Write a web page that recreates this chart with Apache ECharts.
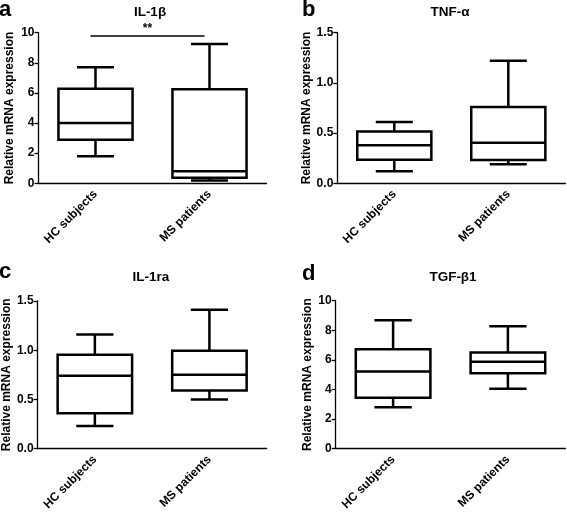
<!DOCTYPE html>
<html><head><meta charset="utf-8">
<script src="https://cdn.jsdelivr.net/npm/echarts@6/dist/echarts.min.js"></script>
<style>html,body{margin:0;padding:0;background:#fff}#c{width:567px;height:513px}</style>
</head><body><div id="c"></div>
<script>
const categories = ['HC subjects', 'MS patients'];
// each: [min, Q1, median, Q3, max]
const il1bHC = [1.8, 2.9, 4.0, 6.28, 7.7];
const il1bMS = [0.18, 0.37, 0.8, 6.24, 9.25];
const tnfHC = [0.12, 0.235, 0.38, 0.515, 0.61];
const tnfMS = [0.19, 0.232, 0.405, 0.76, 1.22];
const il1raHC = [0.23, 0.36, 0.74, 0.955, 1.16];
const il1raMS = [0.50, 0.59, 0.75, 0.995, 1.41];
const tgfHC = [2.79, 3.44, 5.21, 6.72, 8.67];
const tgfMS = [4.04, 5.1, 5.87, 6.5, 8.27];
const titles = ['IL-1β', 'TNF-α', 'IL-1ra', 'TGF-β1'];
const letters = ['a', 'b', 'c', 'd'];
const yMax = [10, 1.5, 1.5, 10];
const yInterval = [2, 0.5, 0.5, 2];
const yDecimals = [0, 1, 1, 0];
const yName = 'Relative mRNA expression';
const sigLevel = 9.78;
const sigLabel = '**';

const panels = [[il1bHC, il1bMS], [tnfHC, tnfMS], [il1raHC, il1raMS], [tgfHC, tgfMS]];
const grids = [
  {left: 38.5, top: 32.7, width: 228, height: 150.6},
  {left: 337.3, top: 32.7, width: 228, height: 150.6},
  {left: 35, top: 301, width: 231.7, height: 150.7},
  {left: 335.7, top: 300.7, width: 229.6, height: 150.3}
];
const nameGaps = [23.2, 24, 19.7, 22.4];
const titlePos = [[150, 12], [450, 12], [151, 277], [453, 277]];
const letterPos = [[-1, -1], [302, -1], [-1, 261], [302, 263]];
const FONT = 'Liberation Sans, Arial, sans-serif';

function renderBox(params, api) {
  const x = api.value(0);
  const v = [1, 2, 3, 4, 5].map(i => api.value(i));
  const p = v.map(val => api.coord([x, val]));
  const w = api.size([1, 0])[0] * 0.65;
  const cx = p[2][0];
  const st = {stroke: '#000', lineWidth: 2.5, fill: null};
  return {
    type: 'group',
    children: [
      {type: 'line', shape: {x1: cx, y1: p[0][1], x2: cx, y2: p[1][1]}, style: st},
      {type: 'line', shape: {x1: cx, y1: p[3][1], x2: cx, y2: p[4][1]}, style: st},
      {type: 'line', shape: {x1: cx - w / 4, y1: p[0][1], x2: cx + w / 4, y2: p[0][1]}, style: st},
      {type: 'line', shape: {x1: cx - w / 4, y1: p[4][1], x2: cx + w / 4, y2: p[4][1]}, style: st},
      {type: 'rect', shape: {x: cx - w / 2, y: p[3][1], width: w, height: p[1][1] - p[3][1]},
        style: {stroke: '#000', lineWidth: 2.5, fill: '#fff'}},
      {type: 'line', shape: {x1: cx - w / 2, y1: p[2][1], x2: cx + w / 2, y2: p[2][1]}, style: st}
    ]
  };
}

function renderSig(params, api) {
  const a = api.coord([0, api.value(0)]);
  const b = api.coord([1, api.value(0)]);
  return {
    type: 'group',
    children: [
      {type: 'line', shape: {x1: a[0] - 5, y1: a[1], x2: b[0] - 5, y2: b[1]},
        style: {stroke: '#000', lineWidth: 1.3}},
      {type: 'text', style: {x: (a[0] + b[0]) / 2 - 5, y: a[1] - 1, text: sigLabel,
        textAlign: 'center', textVerticalAlign: 'bottom', font: 'bold 12px ' + FONT, fill: '#000'}}
    ]
  };
}

const xAxis = [], yAxis = [], series = [], graphic = [];
panels.forEach((pd, i) => {
  xAxis.push({
    type: 'category', gridIndex: i, data: categories,
    axisLine: {lineStyle: {color: '#000', width: 1.3}},
    axisTick: {alignWithLabel: true, length: 5, lineStyle: {color: '#000', width: 1.3}},
    axisLabel: {rotate: 45, interval: 0, margin: 9, color: '#000', fontWeight: 'bold', fontSize: 12, fontFamily: FONT},
    splitLine: {show: false}
  });
  yAxis.push({
    type: 'value', gridIndex: i, min: 0, max: yMax[i], interval: yInterval[i],
    name: yName, nameLocation: 'middle', nameGap: nameGaps[i],
    nameTextStyle: {color: '#000', fontWeight: 'bold', fontSize: 12, fontFamily: FONT},
    axisLine: {show: true, lineStyle: {color: '#000', width: 1.3}},
    axisTick: {show: true, length: 4, lineStyle: {color: '#000', width: 1.3}},
    axisLabel: {color: '#000', fontWeight: 'bold', fontSize: 12, fontFamily: FONT, margin: 4,
      formatter: val => val.toFixed(yDecimals[i])},
    splitLine: {show: false}
  });
  series.push({
    type: 'custom', xAxisIndex: i, yAxisIndex: i, renderItem: renderBox, clip: false,
    encode: {x: 0, y: [1, 2, 3, 4, 5]},
    data: pd.map((d, k) => [k].concat(d))
  });
  graphic.push({type: 'text', x: titlePos[i][0], y: titlePos[i][1],
    style: {text: titles[i], x: 0, y: 0, textAlign: 'center', textVerticalAlign: 'middle',
      font: 'bold 13.5px ' + FONT, fill: '#000'}});
  graphic.push({type: 'text', left: letterPos[i][0], top: letterPos[i][1],
    style: {text: letters[i], font: 'bold 22px ' + FONT, fill: '#000'}});
});
series.push({
  type: 'custom', xAxisIndex: 0, yAxisIndex: 0, renderItem: renderSig, clip: false,
  encode: {y: 0}, data: [[sigLevel]]
});

const chart = echarts.init(document.getElementById('c'), null, {renderer: 'canvas'});
chart.setOption({
  backgroundColor: '#fff', animation: false,
  grid: grids, xAxis, yAxis, series, graphic
});
</script></body></html>
